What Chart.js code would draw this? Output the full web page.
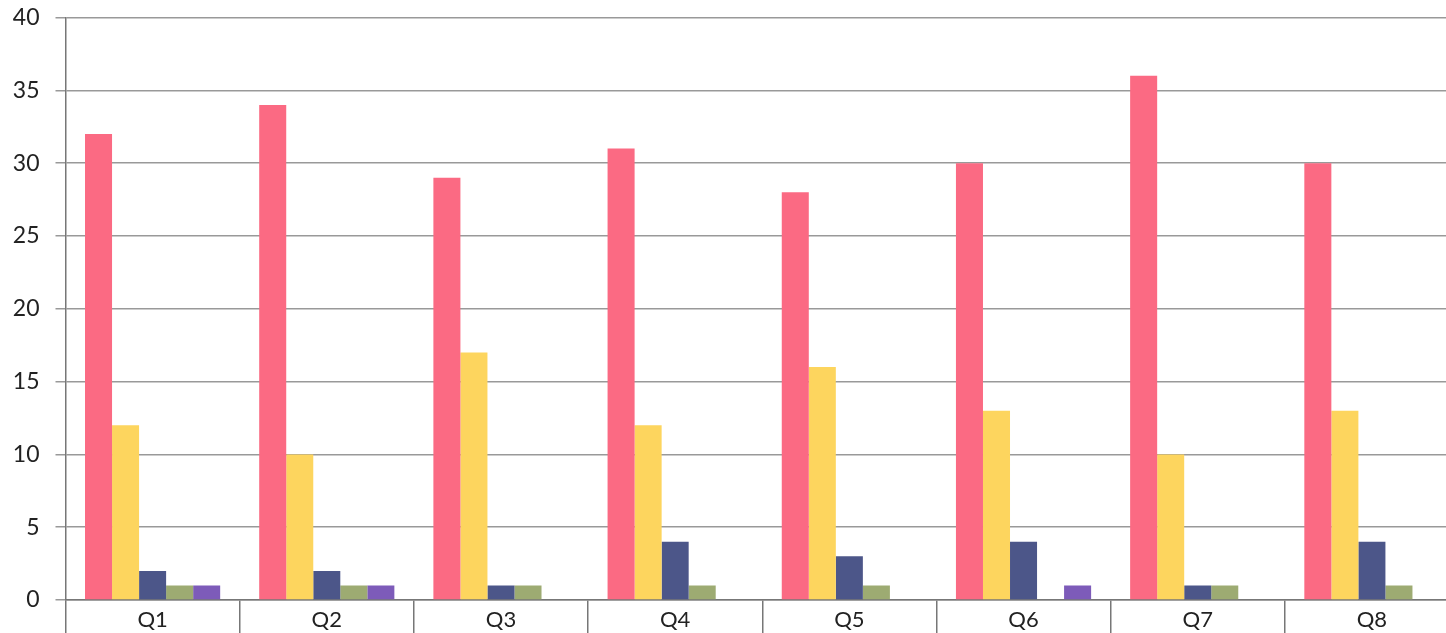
<!DOCTYPE html>
<html>
<head>
<meta charset="utf-8">
<script src="https://cdn.jsdelivr.net/npm/chart.js@4.4.0/dist/chart.umd.min.js"></script>
<style>
  html, body { margin: 0; padding: 0; background: #fff; overflow: hidden; }
  #wrap { width: 1464px; height: 633px; }
</style>
</head>
<body>
<div id="wrap"><canvas id="chart" width="1464" height="633"></canvas></div>
<script>
'use strict';

// Categories and series
const categories = ['Q1', 'Q2', 'Q3', 'Q4', 'Q5', 'Q6', 'Q7', 'Q8'];
const seriesA = [32, 34, 29, 31, 28, 30, 36, 30];
const seriesB = [12, 10, 17, 12, 16, 13, 10, 13];
const seriesC = [2, 2, 1, 4, 3, 4, 1, 4];
const seriesD = [1, 1, 1, 1, 1, 0, 1, 1];
const seriesE = [1, 1, 0, 0, 0, 1, 0, 0];
const yTicks = [0, 5, 10, 15, 20, 25, 30, 35, 40];

const colors = ['#fb6a83', '#fdd55e', '#4c5689', '#9dab72', '#7d5bb9'];
const allSeries = [seriesA, seriesB, seriesC, seriesD, seriesE];

let datasets = allSeries.map(function(values, i) {
  return {
    label: 'Series ' + (i + 1),
    data: values,
    backgroundColor: colors[i],
    borderWidth: 0,
    barPercentage: 1,
    categoryPercentage: 0.776
  };
});

let ctx = document.getElementById('chart').getContext('2d');
new Chart(ctx, {
  type: 'bar',
  data: { labels: categories, datasets: datasets },
  options: {
    responsive: false,
    animation: false,
    layout: { padding: { top: 17.5, right: 5, left: 0, bottom: 0 } },
    plugins: { legend: { display: false }, tooltip: { enabled: false } },
    scales: {
      x: {
        grid: {
          offset: true,
          drawOnChartArea: false,
          drawTicks: true,
          tickLength: 33,
          color: '#777',
          lineWidth: 1.5
        },
        border: { color: '#777', width: 1.5 },
        ticks: {
          color: '#222',
          font: { family: 'Lato', size: 22 },
          padding: -26
        },
        afterFit: function(axis) {
          axis.height = 33;
          axis.paddingLeft = 0;
          axis.paddingRight = 0;
        }
      },
      y: {
        min: 0,
        max: 40,
        afterBuildTicks: function(axis) {
          axis.ticks = yTicks.map(v => ({ value: v }));
        },
        grid: {
          color: '#999',
          lineWidth: 1.5,
          tickLength: 10
        },
        border: { color: '#777', width: 1.5 },
        ticks: {
          color: '#222',
          font: { family: 'Lato', size: 23 },
          padding: 16
        },
        afterFit: function(axis) {
          axis.width = 65.5;
          axis.paddingTop = 0;
          axis.paddingBottom = 0;
        }
      }
    }
  }
});
</script>
</body>
</html>
